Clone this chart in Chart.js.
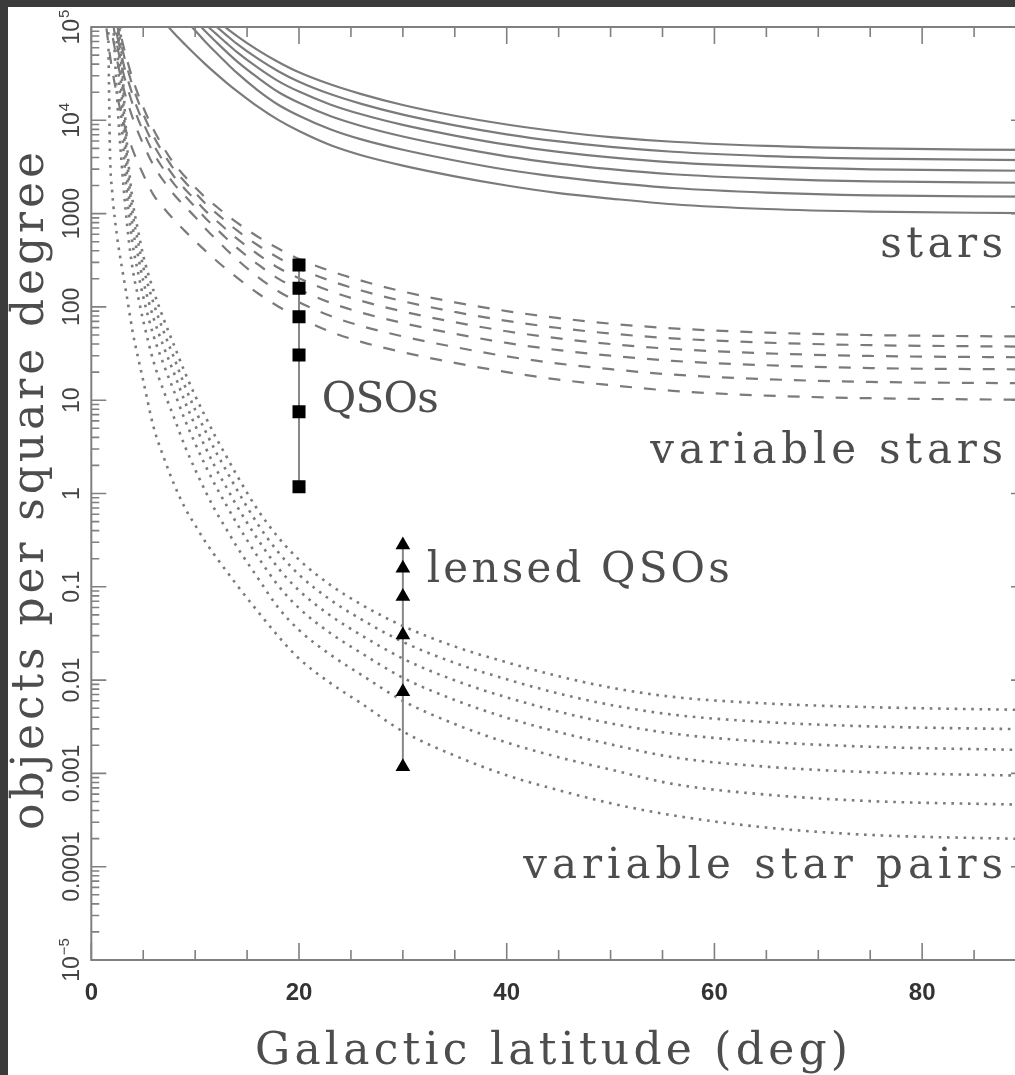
<!DOCTYPE html>
<html>
<head>
<meta charset="utf-8">
<script src="https://cdn.jsdelivr.net/npm/chart.js@4.4.1/dist/chart.umd.min.js"></script>
<style>
  html, body { margin: 0; padding: 0; background: #3b3b3b; overflow: hidden; width: 1015px; height: 1075px; }
  #panel { position: absolute; left: 8px; top: 7px; width: 1040px; height: 1068px; background: #fff; overflow: hidden; }
  canvas { display: block; }
</style>
</head>
<body>
<div id="panel"><canvas id="chart" width="1040" height="1068"></canvas></div>
<script>
// galactic latitude grids (deg)
const starLat = [6, 7, 8, 9, 10, 11, 12, 13, 14, 16, 18, 20, 23, 26, 30, 35, 40, 45, 50, 56, 65, 75, 90];
const varLat = [1, 1.5, 2, 3, 4, 5, 6, 7, 8, 9, 10, 11, 12, 13, 14, 16, 18, 20, 23, 26, 30, 35, 40, 45, 50, 56, 65, 75, 90];
const pairLat = [1.6, 1.7, 1.8, 2, 2.5, 3, 3.5, 4, 4.5, 5, 6, 7, 8, 9, 10, 11, 12, 13, 14, 16, 18, 20, 23, 26, 30, 35, 40, 45, 50, 56, 65, 75, 90];

// stars (solid)
const stars1 = [794000, 501000, 339000, 251000, 191000, 148000, 120000, 97700, 80400, 56900, 42200, 32700, 24300, 19100, 14600, 11200, 9020, 7590, 6610, 5890, 5310, 4990, 4810];
const stars2 = [676000, 433000, 295000, 220000, 167000, 128000, 102000, 82000, 66400, 46100, 33600, 25900, 19100, 15000, 11500, 8830, 7080, 5940, 5180, 4600, 4140, 3890, 3750];
const stars3 = [548000, 356000, 247000, 184000, 141000, 107000, 84900, 67500, 54200, 36900, 26300, 20300, 14800, 11600, 8930, 6860, 5480, 4590, 4000, 3540, 3180, 2980, 2880];
const stars4 = [445000, 294000, 206000, 155000, 118000, 89300, 69500, 54400, 43100, 28800, 20100, 15400, 11100, 8690, 6710, 5150, 4110, 3440, 3000, 2640, 2370, 2210, 2140];
const stars5 = [327000, 221000, 158000, 120000, 92000, 69000, 53200, 41300, 32400, 21100, 14700, 11200, 8020, 6240, 4830, 3710, 2950, 2470, 2150, 1880, 1680, 1570, 1520];
const stars6 = [158000, 114000, 85100, 65300, 50700, 39800, 31600, 25400, 20700, 14100, 10100, 7670, 5430, 4220, 3270, 2510, 2000, 1660, 1450, 1260, 1120, 1050, 1010];

// variable stars (dashed)
const varStars1 = [2510000, 631000, 251000, 69200, 27500, 13800, 7940, 5010, 3390, 2510, 1910, 1480, 1200, 977, 804, 569, 422, 327, 243, 191, 146, 112, 90.2, 75.9, 66.1, 58.9, 53.1, 49.9, 48.1];
const varStars2 = [2040000, 519000, 207000, 57300, 23100, 11700, 6760, 4330, 2950, 2200, 1670, 1280, 1020, 820, 664, 461, 336, 259, 191, 150, 115, 88.3, 70.8, 59.4, 51.8, 46.0, 41.4, 38.9, 37.5];
const varStars3 = [1560000, 403000, 160000, 44800, 18400, 9420, 5480, 3560, 2470, 1840, 1410, 1070, 849, 675, 542, 369, 263, 203, 148, 116, 89.3, 68.6, 54.8, 45.9, 40.0, 35.4, 31.8, 29.8, 28.8];
const varStars4 = [1190000, 312000, 124000, 35100, 14700, 7600, 4450, 2940, 2060, 1550, 1180, 893, 695, 544, 431, 288, 201, 154, 111, 86.9, 67.1, 51.5, 41.1, 34.4, 30.0, 26.4, 23.7, 22.1, 21.4];
const varStars5 = [804000, 215000, 85700, 24500, 10500, 5550, 3270, 2210, 1580, 1200, 920, 690, 532, 413, 324, 211, 147, 112, 80.2, 62.4, 48.3, 37.1, 29.5, 24.7, 21.5, 18.8, 16.8, 15.7, 15.2];
const varStars6 = [316000, 89100, 35500, 10500, 4790, 2630, 1580, 1140, 851, 653, 507, 398, 316, 254, 207, 141, 101, 76.7, 54.3, 42.2, 32.7, 25.1, 20.0, 16.6, 14.5, 12.6, 11.2, 10.5, 10.1];

// variable star pairs (dotted)
const pairs1 = [null, null, null, 3.16e7, 6.31e5, 3.55e4, 4470, 1320, 661, 355, 148, 72.4, 38.0, 20.0, 11.2, 6.61, 3.98, 2.51, 1.58, 0.676, 0.339, 0.195, 0.105, 0.0646, 0.0380, 0.0229, 0.0155, 0.0110, 0.00832, 0.00661, 0.00562, 0.00513, 0.00479];
const pairs2 = [null, null, null, 1.31e7, 3.35e5, 2.27e4, 3210, 986, 499, 269, 109, 53.3, 27.9, 14.3, 7.89, 4.63, 2.79, 1.76, 1.11, 0.475, 0.235, 0.135, 0.0728, 0.0448, 0.0257, 0.0153, 0.0102, 0.00719, 0.00542, 0.00426, 0.00355, 0.00319, 0.00297];
const pairs3 = [null, null, null, 4.47e6, 1.54e5, 1.31e4, 2150, 692, 353, 191, 75.5, 36.6, 19.1, 9.73, 5.37, 3.10, 1.85, 1.17, 0.741, 0.327, 0.159, 0.0914, 0.0494, 0.0303, 0.0170, 0.00993, 0.00653, 0.00459, 0.00344, 0.00267, 0.00218, 0.00193, 0.00178];
const pairs4 = [null, null, null, 1.25e6, 6.17e4, 6870, 1330, 455, 235, 128, 48.8, 23.6, 12.2, 6.21, 3.44, 1.98, 1.19, 0.753, 0.480, 0.213, 0.103, 0.0590, 0.0320, 0.0195, 0.0106, 0.00612, 0.00395, 0.00277, 0.00205, 0.00149, 0.00118, 0.00103, 0.000944];
const pairs5 = [null, null, null, 1.95e5, 1.62e4, 2670, 665, 247, 130, 71.3, 25.8, 12.3, 6.38, 3.24, 1.81, 1.05, 0.640, 0.416, 0.271, 0.126, 0.0598, 0.0344, 0.0188, 0.0114, 0.00600, 0.00338, 0.00214, 0.00149, 0.00110, 0.000771, 0.000592, 0.000505, 0.000461];
const pairs6 = [2.0e5, 2.51e4, 4470, 1780, 550, 245, 115, 52.5, 28.8, 16.2, 5.13, 2.40, 1.23, 0.708, 0.457, 0.302, 0.209, 0.148, 0.105, 0.0550, 0.0295, 0.0170, 0.00933, 0.00562, 0.00282, 0.00155, 0.000955, 0.000661, 0.000479, 0.000355, 0.000263, 0.000219, 0.000198];

// QSOs and lensed QSOs
const qsoLat = 20;
const qsoCounts = [281, 158, 78.5, 30.5, 7.53, 1.18];
const lensedLat = 30;
const lensedCounts = [0.281, 0.158, 0.0785, 0.0305, 0.0075, 0.00118];

// axes
const xTicks = [0, 20, 40, 60, 80];
const yTicks = [1e-5, 1e-4, 1e-3, 1e-2, 1e-1, 1, 10, 100, 1000, 1e4, 1e5];
const yTickLabels = [['10', '\u22125'], ['0.0001', ''], ['0.001', ''], ['0.01', ''], ['0.1', ''], ['1', ''], ['10', ''], ['100', ''], ['1000', ''], ['10', '4'], ['10', '5']];

const curveLabels = [
    { text: 'stars', lat: 87.8, value: 343, align: 'right', width: 123 },
    { text: 'variable stars', lat: 87.8, value: 2.14, align: 'right', width: 353 },
    { text: 'QSOs', lat: 22.2, value: 7.53, align: 'left', width: 117 },
    { text: 'lensed QSOs', lat: 32.3, value: 0.1135, align: 'left', width: 303 },
    { text: 'variable star pairs', lat: 87.8, value: 7.5e-5, align: 'right', width: 480 }
];

const LINE_GREY = '#7b7b7b';
const AXIS_GREY = '#808080';
const SERIF = '"DejaVu Serif", "Liberation Serif", serif';
const SANS = '"Liberation Sans", Arial, sans-serif';

function curve(lat, vals, width, dash) {
    return {
        data: lat.map((x, i) => ({ x: x, y: vals[i] })),
        borderColor: LINE_GREY,
        borderWidth: width,
        borderDash: dash,
        pointRadius: 0,
        cubicInterpolationMode: 'monotone',
        fill: false,
        order: 2
    };
}

function markers(lat, vals, style, radius) {
    return {
        data: vals.map(v => ({ x: lat, y: v })),
        showLine: true,
        borderColor: '#888',
        borderWidth: 2,
        pointStyle: style,
        pointRadius: radius,
        pointBackgroundColor: '#000',
        pointBorderColor: '#000',
        pointBorderWidth: 0,
        order: 0
    };
}

// spread characters so the word covers the given width
function drawSpread(ctx, text, x, y, width, align) {
    const natural = ctx.measureText(text).width;
    const gap = text.length > 1 ? (width - natural) / (text.length - 1) : 0;
    let cx = align === 'left' ? x : align === 'right' ? x - width : x - width / 2;
    ctx.textAlign = 'left';
    for (const ch of text) {
        ctx.fillText(ch, cx, y);
        cx += ctx.measureText(ch).width + gap;
    }
}

const framePlugin = {
    id: 'frame',
    afterDraw(chart) {
        const ctx = chart.ctx;
        const a = chart.chartArea;
        const xs = chart.scales.x;
        const ys = chart.scales.y;
        ctx.save();

        // frame
        ctx.strokeStyle = AXIS_GREY;
        ctx.lineWidth = 2;
        ctx.strokeRect(a.left, a.top, a.right - a.left, a.bottom - a.top);

        // inward ticks
        ctx.lineWidth = 1.6;
        ctx.beginPath();
        for (let b = 0; b <= 90; b += 5) {
            const px = xs.getPixelForValue(b);
            const len = b % 20 === 0 ? 17 : 10;
            ctx.moveTo(px, a.bottom); ctx.lineTo(px, a.bottom - len);
            ctx.moveTo(px, a.top); ctx.lineTo(px, a.top + len);
        }
        for (let e = -5; e <= 5; e++) {
            for (let m = 1; m <= 9; m++) {
                const v = m * Math.pow(10, e);
                if (v > 1e5 * 1.0001) break;
                const py = ys.getPixelForValue(v);
                const len = m === 1 ? 15 : 8;
                ctx.moveTo(a.left, py); ctx.lineTo(a.left + len, py);
                ctx.moveTo(a.right, py); ctx.lineTo(a.right - len, py);
            }
        }
        ctx.stroke();

        // x tick labels
        ctx.fillStyle = '#333';
        ctx.font = 'bold 24px ' + SANS;
        ctx.textAlign = 'center';
        ctx.textBaseline = 'alphabetic';
        xTicks.forEach(b => ctx.fillText(String(b), xs.getPixelForValue(b), 993));

        // y tick labels, rotated
        ctx.fillStyle = '#444';
        yTicks.forEach((v, i) => {
            const [base, sup] = yTickLabels[i];
            ctx.font = '23px ' + SANS;
            const wb = ctx.measureText(base).width;
            ctx.font = '15px ' + SANS;
            const ws = sup ? ctx.measureText(sup).width + 1 : 0;
            ctx.save();
            ctx.translate(63, ys.getPixelForValue(v));
            ctx.rotate(-Math.PI / 2);
            ctx.textAlign = 'left';
            ctx.textBaseline = 'alphabetic';
            ctx.font = '23px ' + SANS;
            const x0 = -(wb + ws) / 2;
            ctx.fillText(base, x0, 8);
            if (sup) {
                ctx.font = '15px ' + SANS;
                ctx.fillText(sup, x0 + wb + 1, -2);
            }
            ctx.restore();
        });

        // axis titles
        ctx.fillStyle = '#4d4d4d';
        ctx.font = '44px ' + SERIF;
        ctx.textBaseline = 'alphabetic';
        drawSpread(ctx, 'Galactic latitude (deg)', 543.5, 1057, 593, 'center');
        ctx.save();
        ctx.translate(35, 484);
        ctx.rotate(-Math.PI / 2);
        drawSpread(ctx, 'objects per square degree', 0, 0, 678, 'center');
        ctx.restore();

        // curve labels
        ctx.font = '42px ' + SERIF;
        curveLabels.forEach(l => {
            drawSpread(ctx, l.text, xs.getPixelForValue(l.lat), ys.getPixelForValue(l.value), l.width, l.align);
        });

        ctx.restore();
    }
};

const SOLID = 2.2;
const DASH = [12, 12];
const DOT = [2.6, 5.7];

new Chart(document.getElementById('chart').getContext('2d'), {
    type: 'line',
    data: {
        datasets: [
            markers(qsoLat, qsoCounts, 'rect', 9.2),
            markers(lensedLat, lensedCounts, 'triangle', 8.5),
            curve(starLat, stars1, SOLID, []),
            curve(starLat, stars2, SOLID, []),
            curve(starLat, stars3, SOLID, []),
            curve(starLat, stars4, SOLID, []),
            curve(starLat, stars5, SOLID, []),
            curve(starLat, stars6, SOLID, []),
            curve(varLat, varStars1, SOLID, DASH),
            curve(varLat, varStars2, SOLID, DASH),
            curve(varLat, varStars3, SOLID, DASH),
            curve(varLat, varStars4, SOLID, DASH),
            curve(varLat, varStars5, SOLID, DASH),
            curve(varLat, varStars6, SOLID, DASH),
            curve(pairLat, pairs1, 2.6, DOT),
            curve(pairLat, pairs2, 2.6, DOT),
            curve(pairLat, pairs3, 2.6, DOT),
            curve(pairLat, pairs4, 2.6, DOT),
            curve(pairLat, pairs5, 2.6, DOT),
            curve(pairLat, pairs6, 2.6, DOT)
        ]
    },
    options: {
        responsive: false,
        animation: false,
        devicePixelRatio: 1,
        events: [],
        layout: { padding: { left: 83.3, top: 20, right: 22, bottom: 115 } },
        plugins: { legend: { display: false }, tooltip: { enabled: false } },
        scales: {
            x: { type: 'linear', min: 0, max: 90, display: false },
            y: { type: 'logarithmic', min: 1e-5, max: 1e5, display: false }
        }
    },
    plugins: [framePlugin]
});
</script>
</body>
</html>
